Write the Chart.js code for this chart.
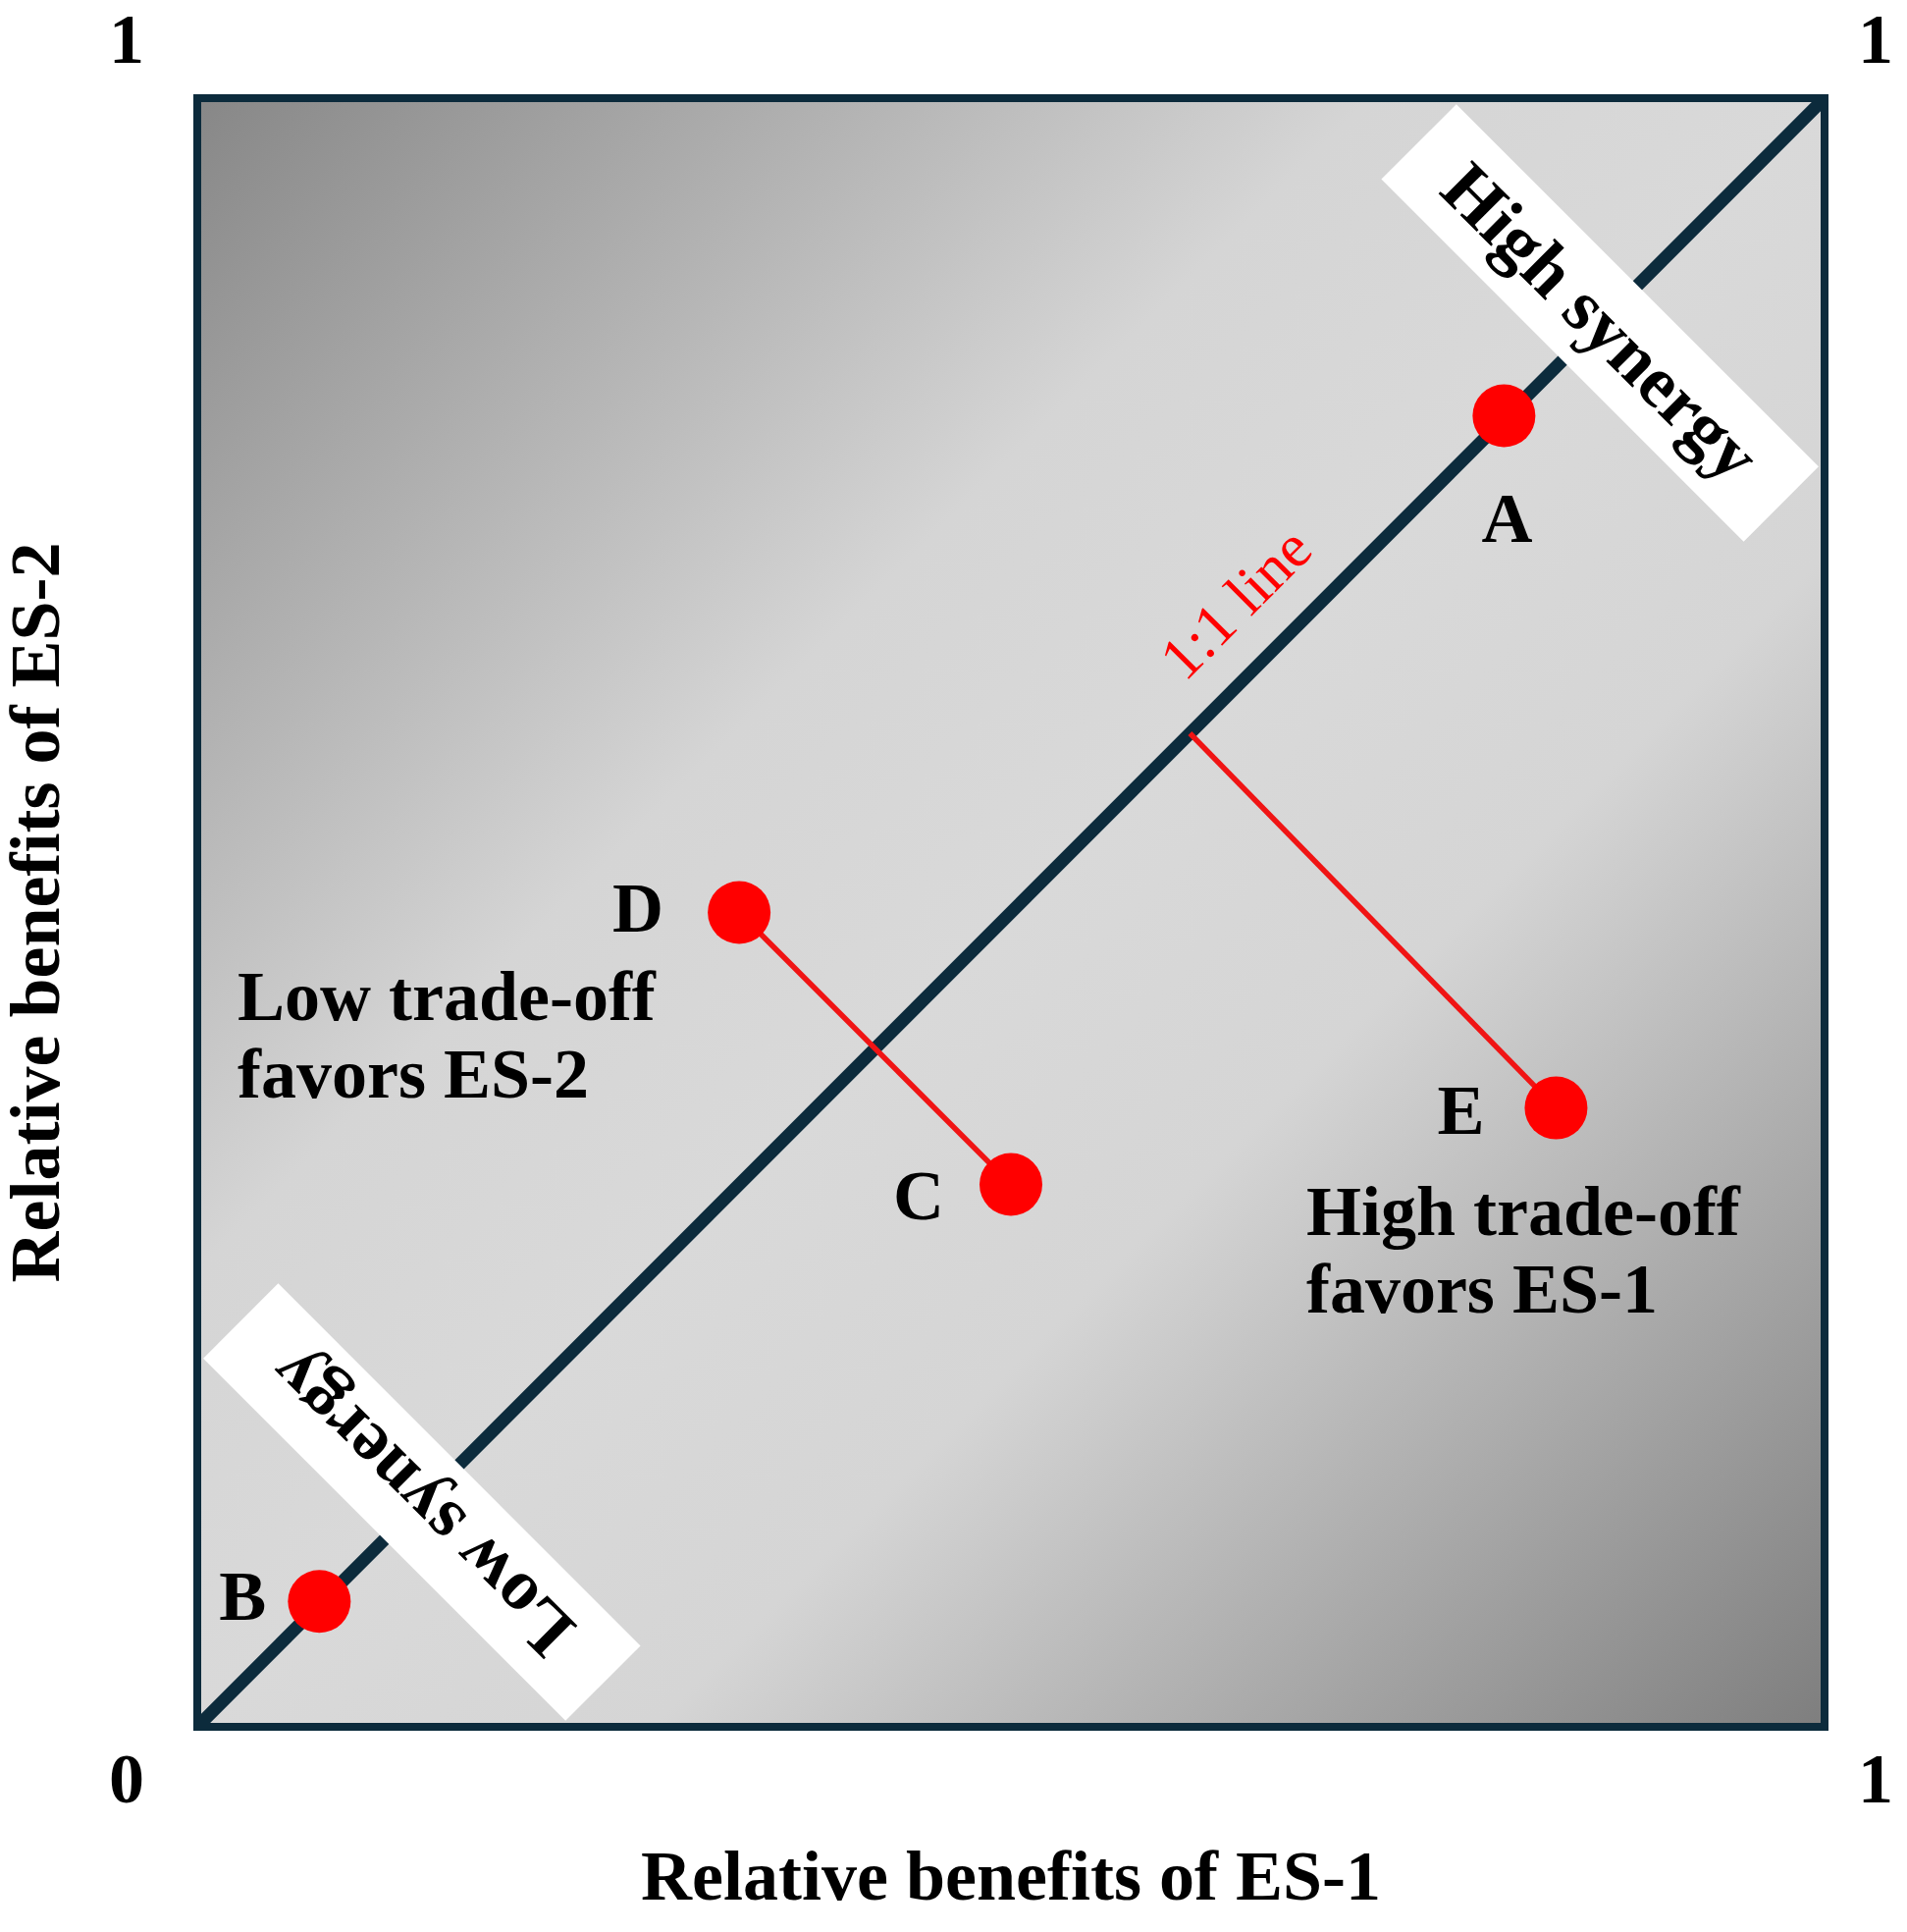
<!DOCTYPE html>
<html>
<head>
<meta charset="utf-8">
<script src="https://cdn.jsdelivr.net/npm/chart.js@4.4.1/dist/chart.umd.min.js"></script>
<style>
  html, body { margin: 0; padding: 0; background: #fff; }
  #wrap { width: 1943px; height: 1968px; }
</style>
</head>
<body>
<div id="wrap"><canvas id="chart" width="1943" height="1968"></canvas></div>
<script>
// values (0..1 relative benefits)
const pointNames = ['A', 'B', 'C', 'D', 'E'];
const es1Values = [0.803, 0.075, 0.50, 0.333, 0.835];
const es2Values = [0.805, 0.077, 0.333, 0.50, 0.38];
const oneToOneLine = [0, 1];
const eFootOnLine = 0.61;          // where the E connector meets the 1:1 line
const cornerTicks = ['0', '1', '1', '1'];  // bottom-left, bottom-right, top-left, top-right
const xTitle = 'Relative benefits of ES-1';
const yTitle = 'Relative benefits of ES-2';

const ink = '#0c2b3c';
const red = '#ff0000';
const serif = '"Liberation Serif", "DejaVu Serif", serif';
const boldFont = 'bold 72px ' + serif;

function pt(name) {
    const i = pointNames.indexOf(name);
    return { x: es1Values[i], y: es2Values[i] };
}

// label offsets in pixels from each dot
const labelOffsets = {
    A: [3, 110], B: [-78, 0], C: [-94, 17], D: [-103, 1], E: [-97, 8]
};

const synergyBoxes = [
    { text: 'High synergy', at: 0.862, angle: 45 },
    { text: 'Low synergy', at: 0.138, angle: 225 }
];

const regionNotes = [
    { lines: ['Low trade-off', 'favors ES-2'], x: 0.0247, y: 0.434 },
    { lines: ['High trade-off', 'favors ES-1'], x: 0.6815, y: 0.302 }
];

const quadrantPlugin = {
    id: 'quadrant',
    beforeDatasetsDraw(chart) {
        const { ctx, chartArea: a } = chart;
        const g = ctx.createLinearGradient(a.left, a.top, a.right, a.bottom);
        g.addColorStop(0, '#878787');
        g.addColorStop(0.36, '#d5d5d5');
        g.addColorStop(0.5, '#d9d9d9');
        g.addColorStop(0.64, '#d5d5d5');
        g.addColorStop(1, '#7e7e7e');
        ctx.save();
        ctx.fillStyle = g;
        ctx.fillRect(a.left, a.top, a.right - a.left, a.bottom - a.top);
        ctx.restore();
    },
    afterDatasetDraw(chart, args) {
        if (chart.data.datasets[args.index].id !== 'diagonal') return;
        const { ctx, scales } = chart;
        ctx.save();
        synergyBoxes.forEach(b => {
            const cx = scales.x.getPixelForValue(b.at);
            const cy = scales.y.getPixelForValue(b.at);
            ctx.save();
            ctx.translate(cx, cy);
            ctx.rotate(b.angle * Math.PI / 180);
            ctx.fillStyle = '#fff';
            ctx.fillRect(-261, -54, 522, 108);
            ctx.fillStyle = '#000';
            ctx.font = 'bold 74px ' + serif;
            ctx.textAlign = 'center';
            ctx.textBaseline = 'middle';
            ctx.fillText(b.text, 0, 4);
            ctx.restore();
        });
        ctx.restore();
    },
    afterDatasetsDraw(chart) {
        const { ctx, chartArea: a, scales } = chart;
        const sx = v => scales.x.getPixelForValue(v);
        const sy = v => scales.y.getPixelForValue(v);
        ctx.save();
        // frame
        ctx.strokeStyle = ink;
        ctx.lineWidth = 8;
        ctx.strokeRect(a.left, a.top, a.right - a.left, a.bottom - a.top);

        ctx.fillStyle = '#000';
        ctx.font = boldFont;
        ctx.textAlign = 'center';
        ctx.textBaseline = 'middle';

        // corner ticks
        const corners = [[0, 0], [1, 0], [0, 1], [1, 1]];
        corners.forEach((c, i) => {
            const dx = c[0] === 0 ? -72 : 52;
            const dy = c[1] === 0 ? 58 : -55;
            ctx.fillText(cornerTicks[i], sx(c[0]) + dx, sy(c[1]) + dy);
        });

        // point labels
        pointNames.forEach((n, i) => {
            const o = labelOffsets[n];
            ctx.fillText(n, sx(es1Values[i]) + o[0], sy(es2Values[i]) + o[1]);
        });

        // region notes
        ctx.textAlign = 'left';
        ctx.textBaseline = 'alphabetic';
        regionNotes.forEach(r => {
            r.lines.forEach((l, k) => ctx.fillText(l, sx(r.x), sy(r.y) + k * 79));
        });

        // axis titles
        ctx.textAlign = 'center';
        ctx.textBaseline = 'middle';
        ctx.fillText(xTitle, (a.left + a.right) / 2, a.bottom + 157);
        ctx.save();
        ctx.translate(a.left - 160, (a.top + a.bottom) / 2);
        ctx.rotate(-Math.PI / 2);
        ctx.fillText(yTitle, 0, 0);
        ctx.restore();

        // 1:1 line label
        ctx.save();
        ctx.translate(sx(0.64), sy(0.688));
        ctx.rotate(-Math.PI / 4);
        ctx.fillStyle = red;
        ctx.font = '62px ' + serif;
        ctx.fillText('1:1 line', 0, 0);
        ctx.restore();

        ctx.restore();
    }
};

const ctx = document.getElementById('chart');
new Chart(ctx, {
    type: 'scatter',
    data: {
        datasets: [
            {
                label: 'points',
                data: pointNames.map(n => pt(n)),
                backgroundColor: red,
                borderWidth: 0,
                pointRadius: 32,
                pointHoverRadius: 32,
                order: 0
            },
            {
                label: 'D-C',
                type: 'line',
                data: [pt('D'), pt('C')],
                borderColor: '#f01414',
                borderWidth: 5.5,
                pointRadius: 0,
                order: 1
            },
            {
                label: 'E-line',
                type: 'line',
                data: [pt('E'), { x: eFootOnLine, y: eFootOnLine }],
                borderColor: '#f01414',
                borderWidth: 5.5,
                pointRadius: 0,
                order: 1
            },
            {
                id: 'diagonal',
                label: '1:1 line',
                type: 'line',
                data: oneToOneLine.map(v => ({ x: v, y: v })),
                borderColor: ink,
                borderWidth: 13,
                pointRadius: 0,
                order: 3
            }
        ]
    },
    options: {
        responsive: false,
        devicePixelRatio: 1,
        animation: false,
        layout: { padding: { left: 201, right: 84, top: 100, bottom: 209 } },
        plugins: { legend: { display: false }, tooltip: { enabled: false } },
        scales: {
            x: { type: 'linear', min: 0, max: 1, display: false },
            y: { type: 'linear', min: 0, max: 1, display: false }
        }
    },
    plugins: [quadrantPlugin]
});
</script>
</body>
</html>
